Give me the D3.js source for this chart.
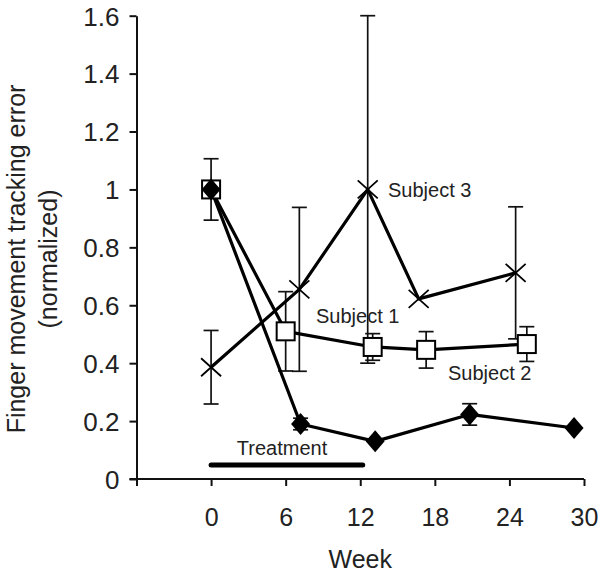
<!DOCTYPE html>
<html>
<head>
<meta charset="utf-8">
<script src="https://cdn.jsdelivr.net/npm/d3@7"></script>
<style>
  body { margin: 0; background: #fff; }
  text { font-family: Arial, "Liberation Sans", sans-serif; fill: #222; }
</style>
</head>
<body>
<div id="chart-area"></div>
<script>
// data
var weeks1 = [0, 7.2, 13.2, 20.8, 29.2];
var s1     = [1.0, 0.19, 0.13, 0.223, 0.176];
var err1   = [0, 0.02, 0, 0.037, 0];

var weeks2 = [0, 6, 13, 17.3, 25.4];
var s2     = [1.0, 0.51, 0.456, 0.446, 0.466];
var err2   = [0.106, 0.137, 0.046, 0.063, 0.06];

var weeks3 = [0, 7.1, 12.6, 16.7, 24.5];
var s3     = [0.386, 0.655, 1.0, 0.622, 0.712];
var err3   = [0.127, 0.283, 0.6, 0, 0.228];

var xTicks = [-6, 0, 6, 12, 18, 24, 30];
var yTicks = [0, 0.2, 0.4, 0.6, 0.8, 1, 1.2, 1.4, 1.6];
var treatment = [0, 12.2];
var treatmentLevel = 0.048;

var width = 601, height = 574;

var svg = d3.select("#chart-area")
    .append("svg")
    .attr("width", width)
    .attr("height", height);

var x = d3.scaleLinear().domain([-6, 30]).range([136.5, 584]);
var y = d3.scaleLinear().domain([0, 1.6]).range([479, 15.7]);

function series(w, v, e) {
    return w.map(function (d, i) { return {w: d, v: v[i], e: e[i]}; });
}
var d1 = series(weeks1, s1, err1),
    d2 = series(weeks2, s2, err2),
    d3s = series(weeks3, s3, err3);

// axes
var xAxis = svg.append("g")
    .attr("transform", "translate(0," + y(0) + ")")
    .call(d3.axisBottom(x).tickValues(xTicks).tickSize(7).tickSizeOuter(0)
        .tickFormat(function (d) { return d < 0 ? "" : d; }));
xAxis.selectAll("text").attr("font-size", "25px").attr("dy", "1.48em").style("fill", "#222");

var yAxis = svg.append("g")
    .attr("transform", "translate(" + x(-6) + ",0)")
    .call(d3.axisLeft(y).tickValues(yTicks).tickSize(7).tickSizeOuter(0)
        .tickFormat(function (d) { return +d.toFixed(1) + ""; }));
yAxis.selectAll("text").attr("font-size", "26px").attr("x", -17).attr("dy", "0.36em").style("fill", "#222");

svg.selectAll(".domain, .tick line").attr("stroke", "#111").attr("stroke-width", 2);
// y axis runs past zero like the original
xAxis.select(".domain").attr("d", "M" + (x(-6) - 7) + ",0H" + x(30));

// axis labels
svg.append("text")
    .attr("x", x(12))
    .attr("y", 568)
    .attr("font-size", "25px")
    .attr("text-anchor", "middle")
    .text("Week");

var yl = svg.append("text")
    .attr("transform", "translate(25,259) rotate(-90)")
    .attr("font-size", "25px")
    .attr("text-anchor", "middle");
yl.append("tspan").attr("x", 0).attr("y", 0).text("Finger movement tracking error");
yl.append("tspan").attr("x", 0).attr("y", 32).text("(normalized)");

// treatment bar
svg.append("line")
    .attr("x1", x(treatment[0])).attr("x2", x(treatment[1]))
    .attr("y1", y(treatmentLevel)).attr("y2", y(treatmentLevel))
    .attr("stroke", "#000").attr("stroke-width", 5).attr("stroke-linecap", "round");
svg.append("text")
    .attr("x", 282)
    .attr("y", 455)
    .attr("font-size", "20px")
    .attr("text-anchor", "middle")
    .text("Treatment");

var line = d3.line()
    .x(function (d) { return x(d.w); })
    .y(function (d) { return y(d.v); });

function errorBars(data) {
    var g = svg.append("g").attr("stroke", "#111").attr("stroke-width", 1.7).attr("fill", "none");
    var eb = data.filter(function (d) { return d.e > 0; });
    g.selectAll(".v").data(eb).enter().append("line")
        .attr("x1", function (d) { return x(d.w); })
        .attr("x2", function (d) { return x(d.w); })
        .attr("y1", function (d) { return y(d.v - d.e); })
        .attr("y2", function (d) { return y(d.v + d.e); });
    [1, -1].forEach(function (s) {
        g.selectAll(".c" + s).data(eb).enter().append("line")
            .attr("x1", function (d) { return x(d.w) - 7.5; })
            .attr("x2", function (d) { return x(d.w) + 7.5; })
            .attr("y1", function (d) { return y(d.v + s * d.e); })
            .attr("y2", function (d) { return y(d.v + s * d.e); });
    });
}

errorBars(d3s);
errorBars(d2);
errorBars(d1);

[d3s, d2, d1].forEach(function (d) {
    svg.append("path")
        .datum(d)
        .attr("d", line)
        .attr("fill", "none")
        .attr("stroke", "#000")
        .attr("stroke-width", 3.2)
        .attr("stroke-linejoin", "round");
});

// subject 3: crosses
svg.selectAll(".cross")
    .data(d3s)
    .enter()
    .append("path")
    .attr("transform", function (d) { return "translate(" + x(d.w) + "," + y(d.v) + ")"; })
    .attr("d", "M-10,-9L10,9M-10,9L10,-9")
    .attr("stroke", "#000")
    .attr("stroke-width", 1.8)
    .attr("fill", "none");

// subject 2: open squares
svg.selectAll(".sq")
    .data(d2)
    .enter()
    .append("rect")
    .attr("x", function (d) { return x(d.w) - 9; })
    .attr("y", function (d) { return y(d.v) - 9; })
    .attr("width", 18)
    .attr("height", 18)
    .attr("fill", "#fff")
    .attr("stroke", "#000")
    .attr("stroke-width", 2);

// subject 1: filled diamonds
svg.selectAll(".dia")
    .data(d1)
    .enter()
    .append("path")
    .attr("transform", function (d) { return "translate(" + x(d.w) + "," + y(d.v) + ")"; })
    .attr("d", "M0,-11L9.5,0L0,11L-9.5,0Z")
    .attr("fill", "#000");

// series labels
svg.append("text").attr("x", 388).attr("y", 197).attr("font-size", "20px").text("Subject 3");
svg.append("text").attr("x", 316).attr("y", 323).attr("font-size", "20px").text("Subject 1");
svg.append("text").attr("x", 448).attr("y", 380).attr("font-size", "20px").text("Subject 2");
</script>
</body>
</html>
